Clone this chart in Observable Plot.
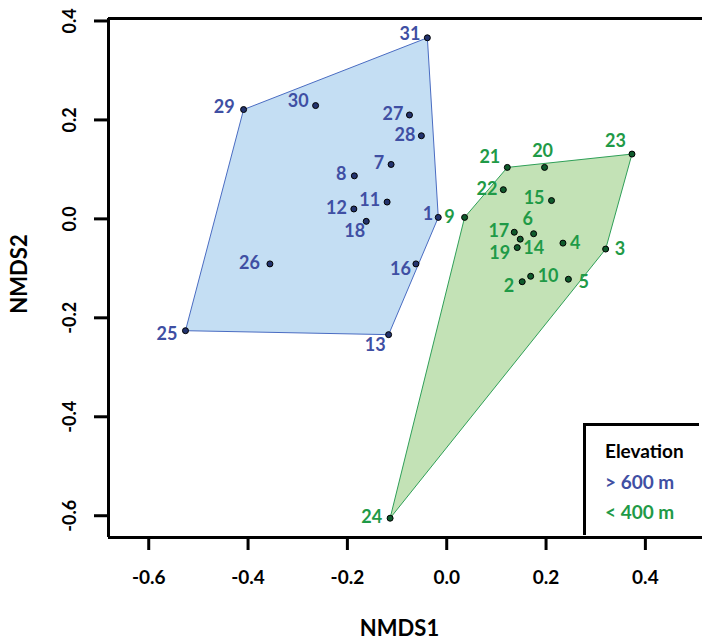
<!DOCTYPE html>
<html>
<head>
<meta charset="utf-8">
<script src="https://cdn.jsdelivr.net/npm/d3@7"></script>
<script src="https://cdn.jsdelivr.net/npm/@observablehq/plot@0.6"></script>
<style>
  html, body { margin: 0; padding: 0; background: #fff; overflow: hidden; }
  #wrap { position: relative; width: 702px; height: 643px; font-family: Lato, "Open Sans", sans-serif; }
  #wrap svg { overflow: visible; }
  #legend { position: absolute; left: 583px; top: 423px; width: 116px; height: 112px;
    border: 3px solid #000; border-right: none; border-bottom: none; background: #fff;
    font-weight: bold; font-size: 19px; line-height: 30.5px; padding: 10px 0 0 19px; box-sizing: border-box; }
</style>
</head>
<body>
<div id="wrap"></div>
<script>
// High elevation (> 600 m) sites
const highIds = [31, 29, 30, 27, 28, 7, 8, 11, 12, 18, 1, 16, 26, 25, 13];
const highX = [-0.039, -0.409, -0.264, -0.075, -0.051, -0.112, -0.186, -0.120, -0.187, -0.162, -0.017, -0.062, -0.356, -0.526, -0.117];
const highY = [0.366, 0.221, 0.229, 0.210, 0.168, 0.110, 0.087, 0.034, 0.020, -0.005, 0.003, -0.091, -0.091, -0.226, -0.234];
// Low elevation (< 400 m) sites
const lowIds = [23, 21, 20, 22, 15, 9, 6, 17, 14, 19, 4, 3, 10, 5, 2, 24];
const lowX = [0.373, 0.122, 0.197, 0.114, 0.211, 0.036, 0.175, 0.136, 0.148, 0.142, 0.234, 0.320, 0.169, 0.245, 0.152, -0.114];
const lowY = [0.131, 0.104, 0.104, 0.059, 0.037, 0.003, -0.030, -0.027, -0.041, -0.058, -0.049, -0.061, -0.116, -0.122, -0.127, -0.605];

const xTicks = [-0.6, -0.4, -0.2, 0.0, 0.2, 0.4];
const yTicks = [-0.6, -0.4, -0.2, 0.0, 0.2, 0.4];
const xDomain = [-0.681, 0.515];
const yDomain = [-0.644, 0.405];

// label placement (style): [textAnchor, dx, dy]
const place = {
  31: ["end", -7, -4], 29: ["end", -9, -2], 30: ["end", -7, -4], 27: ["end", -6, -1], 28: ["end", -6, -1],
  7: ["end", -7, -1], 8: ["end", -8, -2], 11: ["end", -7, -2], 12: ["end", -7, -1], 18: ["end", -1, 10],
  1: ["end", -5, -3], 16: ["end", -5, 5], 26: ["end", -10, -1], 25: ["end", -8, 4], 13: ["end", -3, 11],
  23: ["end", -6, -13], 21: ["end", -7, -10], 20: ["middle", -2, -16], 22: ["end", -6, 0], 15: ["end", -7, -2],
  9: ["end", -10, 0], 6: ["middle", -6, -14], 17: ["end", -5, -1], 14: ["start", 3, 9], 19: ["end", -7, 6],
  4: ["start", 7, 0], 3: ["start", 9, 0], 10: ["start", 7, 0], 5: ["start", 10, 3], 2: ["end", -8, 5], 24: ["end", -8, -1]
};

const BLUE_TEXT = "#3f4fa3", BLUE_FILL = "#c4def3", BLUE_LINE = "#4a6cc2", BLUE_DOT = "#23336e";
const GREEN_TEXT = "#1f9a47", GREEN_FILL = "#c3e2b6", GREEN_LINE = "#2f9f58", GREEN_DOT = "#0f5a2c";

const high = highIds.map((id, i) => ({id, x: highX[i], y: highY[i]}));
const low = lowIds.map((id, i) => ({id, x: lowX[i], y: lowY[i]}));

const labelMarks = (data, color) => data.map(d => {
  const [a, dx, dy] = place[d.id];
  return Plot.text([d], {x: "x", y: "y", text: d => String(d.id), textAnchor: a, dx, dy,
    fill: color, fontSize: 18, fontWeight: "bold"});
});

const chart = Plot.plot({
  width: 702, height: 643,
  marginLeft: 108, marginRight: 0, marginTop: 18, marginBottom: 106,
  style: {fontFamily: "Lato, 'Open Sans', sans-serif", background: "#fff"},
  x: {domain: xDomain},
  y: {domain: yDomain},
  marks: [
    Plot.hull(high, {x: "x", y: "y", fill: BLUE_FILL, stroke: BLUE_LINE, strokeWidth: 1}),
    Plot.hull(low, {x: "x", y: "y", fill: GREEN_FILL, stroke: GREEN_LINE, strokeWidth: 1}),
    Plot.dot(high, {x: "x", y: "y", r: 3, fill: BLUE_DOT, stroke: "#000", strokeWidth: 1}),
    Plot.dot(low, {x: "x", y: "y", r: 3, fill: GREEN_DOT, stroke: "#000", strokeWidth: 1}),
    ...labelMarks(high, BLUE_TEXT),
    ...labelMarks(low, GREEN_TEXT),
    Plot.ruleY([yDomain[1]], {stroke: "#000", strokeWidth: 3}),
    Plot.ruleY([yDomain[0]], {stroke: "#000", strokeWidth: 3}),
    Plot.ruleX([xDomain[0]], {stroke: "#000", strokeWidth: 3}),
    Plot.axisX({ticks: xTicks, tickSize: 13, tickFormat: () => "", strokeWidth: 3, label: null}),
    Plot.axisY({ticks: yTicks, tickSize: 14, tickFormat: () => "", strokeWidth: 3, label: null}),
    Plot.text(xTicks, {x: d => d, text: d => d.toFixed(1), frameAnchor: "bottom", dy: 40,
      textAnchor: "middle", lineAnchor: "middle", fontSize: 19, fontWeight: "bold", fill: "#000"}),
    Plot.text(yTicks, {y: d => d, text: d => d.toFixed(1), frameAnchor: "left", dx: -38, rotate: -90,
      textAnchor: "middle", lineAnchor: "middle", fontSize: 18, fontWeight: "bold", fill: "#000"}),
    Plot.text(["NMDS1"], {frameAnchor: "bottom", dx: -6, dy: 91, text: d => d,
      textAnchor: "middle", lineAnchor: "middle", fontSize: 22, fontWeight: "bold", fill: "#000"}),
    Plot.text(["NMDS2"], {frameAnchor: "left", dx: -89, dy: -4, rotate: -90, text: d => d,
      textAnchor: "middle", lineAnchor: "middle", fontSize: 22, fontWeight: "bold", fill: "#000"})
  ]
});

const wrap = document.getElementById("wrap");
wrap.appendChild(chart);
const legend = document.createElement("div");
legend.id = "legend";
legend.innerHTML = `<div style="color:#000">Elevation</div><div style="color:${BLUE_TEXT}">&gt; 600 m</div><div style="color:${GREEN_TEXT}">&lt; 400 m</div>`;
wrap.appendChild(legend);
</script>
</body>
</html>
